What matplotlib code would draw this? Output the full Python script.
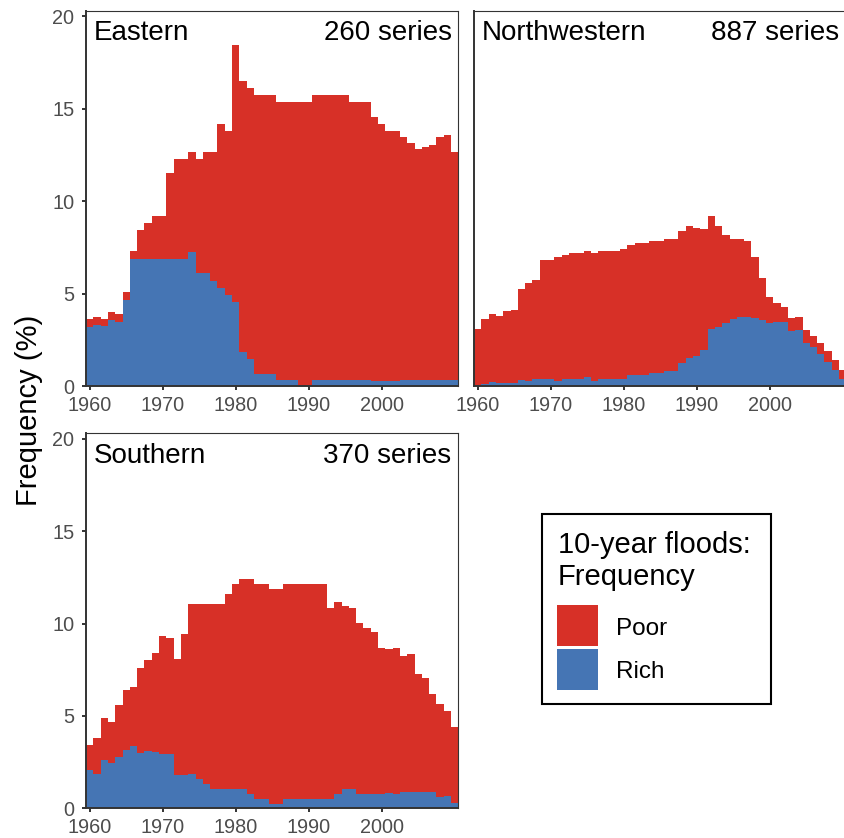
import matplotlib
matplotlib.use("Agg")
import matplotlib.pyplot as plt
from matplotlib.patches import Rectangle
import numpy as np

plt.rcParams['font.family'] = ['Liberation Sans', 'DejaVu Sans']

years = np.arange(1960, 2011)

# share of series (%) with a 10-year flood, split by record quality
eastern_rich = [3.18, 3.30, 3.25, 3.57, 3.48, 4.66, 6.90, 6.90, 6.90, 6.90,
                6.90, 6.90, 6.90, 6.90, 7.27, 6.12, 6.12, 5.69, 5.31, 4.93,
                4.55, 1.86, 1.46, 0.69, 0.69, 0.69, 0.35, 0.35, 0.35, 0.00,
                0.00, 0.35, 0.35, 0.35, 0.35, 0.35, 0.35, 0.35, 0.35, 0.30,
                0.30, 0.30, 0.30, 0.35, 0.35, 0.35, 0.35, 0.35, 0.35, 0.35, 0.35]
eastern_poor = [0.48, 0.42, 0.41, 0.42, 0.42, 0.41, 0.41, 1.55, 1.91, 2.31,
                2.31, 4.63, 5.37, 5.37, 5.40, 6.15, 6.55, 6.98, 8.88, 8.88,
                13.92, 14.66, 14.66, 15.07, 15.07, 15.07, 15.03, 15.03, 15.03, 15.38,
                15.38, 15.41, 15.41, 15.41, 15.41, 15.41, 15.03, 15.03, 15.03, 14.27,
                13.89, 13.51, 13.51, 13.13, 12.79, 12.47, 12.59, 12.70, 13.13, 13.24, 12.32]

northwestern_rich = [0.05, 0.14, 0.22, 0.16, 0.16, 0.16, 0.32, 0.27, 0.38, 0.38,
                     0.38, 0.27, 0.38, 0.38, 0.38, 0.49, 0.27, 0.38, 0.38, 0.38,
                     0.38, 0.60, 0.60, 0.60, 0.70, 0.70, 0.81, 0.81, 1.25, 1.52,
                     1.64, 1.97, 3.09, 3.19, 3.41, 3.63, 3.74, 3.74, 3.68, 3.57,
                     3.41, 3.47, 3.47, 2.98, 3.03, 2.33, 2.11, 1.73, 1.32, 0.88, 0.40]
northwestern_poor = [3.04, 3.52, 3.68, 3.63, 3.90, 3.96, 4.93, 5.31, 5.36, 6.44,
                     6.44, 6.72, 6.71, 6.82, 6.82, 6.82, 6.93, 6.93, 6.93, 6.93,
                     7.04, 7.04, 7.14, 7.14, 7.15, 7.15, 7.15, 7.15, 7.16, 7.14,
                     6.92, 6.53, 6.12, 5.47, 4.77, 4.33, 4.22, 4.11, 3.31, 2.28,
                     1.41, 1.02, 0.81, 0.70, 0.71, 0.70, 0.60, 0.62, 0.58, 0.56, 0.50]

southern_rich = [2.09, 1.88, 2.64, 2.47, 2.80, 3.18, 3.39, 3.01, 3.12, 3.07,
                 2.96, 2.96, 1.82, 1.82, 1.88, 1.61, 1.34, 1.06, 1.06, 1.06,
                 1.06, 1.06, 0.79, 0.52, 0.52, 0.25, 0.25, 0.52, 0.52, 0.52,
                 0.52, 0.52, 0.52, 0.52, 0.79, 1.06, 1.06, 0.79, 0.79, 0.79,
                 0.79, 0.85, 0.79, 0.90, 0.90, 0.90, 0.90, 0.90, 0.63, 0.69, 0.29]
southern_poor = [1.34, 1.91, 2.25, 2.21, 2.80, 3.23, 3.18, 4.59, 4.91, 5.34,
                 6.37, 6.26, 6.27, 7.62, 9.18, 9.45, 9.72, 10.00, 10.00, 10.55,
                 11.09, 11.36, 11.63, 11.63, 11.63, 11.63, 11.63, 11.63, 11.63, 11.63,
                 11.63, 11.63, 11.63, 10.33, 10.38, 9.90, 9.79, 9.25, 8.98, 8.76,
                 7.89, 7.78, 7.89, 7.35, 7.46, 6.37, 6.16, 5.29, 5.02, 4.58, 4.11]

regions = ["Eastern", "Northwestern", "Southern"]
n_series = [260, 887, 370]
rich = [eastern_rich, northwestern_rich, southern_rich]
poor = [eastern_poor, northwestern_poor, southern_poor]

red = "#D73027"
blue = "#4575B4"
dark = "#333333"

W, H = 844, 838
fig = plt.figure(figsize=(W / 100, H / 100), dpi=100)


def px_axes(left, top, right, bottom):
    return fig.add_axes([left / W, 1 - bottom / H, (right - left) / W, (bottom - top) / H])


boxes = [(86, 10.7, 458.3, 386.3), (474, 10.7, 846.3, 386.3), (86, 433.3, 458.3, 808.3)]
edges = np.append(years - 0.5, years[-1] + 0.5)

for k, name in enumerate(regions):
    ax = px_axes(*boxes[k])
    r = np.array(rich[k])
    p = np.array(poor[k])
    # one-year wide stacked columns, drawn as filled steps so neighbours join cleanly
    ax.stairs(r, edges, baseline=0, fill=True, color=blue, linewidth=0)
    ax.stairs(r + p, edges, baseline=r, fill=True, color=red, linewidth=0)
    ax.set_xlim(1959.5, 2010.5)
    ax.set_ylim(0, 20.3)
    ax.set_xticks([1960, 1970, 1980, 1990, 2000])
    ax.set_yticks([0, 5, 10, 15, 20])
    for s in ['top', 'right']:
        ax.spines[s].set_linewidth(0.8)
        ax.spines[s].set_color(dark)
    for s in ['left', 'bottom']:
        ax.spines[s].set_linewidth(1.4)
        ax.spines[s].set_color(dark)
    for s in ax.spines.values():
        s.set_zorder(3)
    ax.tick_params(axis='both', direction='out', length=3, width=1.4, color=dark,
                   labelsize=14.3, labelcolor="#4D4D4D")
    ax.tick_params(axis='x', pad=4)
    ax.tick_params(axis='y', pad=5.5)
    if name == "Northwestern":
        ax.tick_params(axis='y', length=0, labelleft=False)
    ax.text(0.0215, 0.922, name, transform=ax.transAxes, ha='left', va='baseline',
            fontsize=20, color='black')
    ax.text(0.982, 0.922, f"{n_series[k]} series", transform=ax.transAxes,
            ha='right', va='baseline', fontsize=20, color='black')

fig.text(29 / W, 1 - 410 / H, "Frequency (%)", rotation=90, ha='center', va='center',
         fontsize=21)

# legend drawn in pixel coordinates
lg = fig.add_axes([0, 0, 1, 1])
lg.set_xlim(0, W)
lg.set_ylim(H, 0)
lg.axis('off')
lg.add_patch(Rectangle((542, 514), 229, 190, facecolor='white', edgecolor='black',
                       linewidth=1.5))
lg.text(558, 553, "10-year floods:", fontsize=21, va='baseline', ha='left')
lg.text(558, 585, "Frequency", fontsize=21, va='baseline', ha='left')
lg.add_patch(Rectangle((557, 605), 41, 41, facecolor=red, linewidth=0))
lg.add_patch(Rectangle((557, 649), 41, 41, facecolor=blue, linewidth=0))
lg.text(616, 634.5, "Poor", fontsize=17.5, va='baseline', ha='left')
lg.text(616, 678, "Rich", fontsize=17.5, va='baseline', ha='left')

fig.savefig("out.png", dpi=100)
